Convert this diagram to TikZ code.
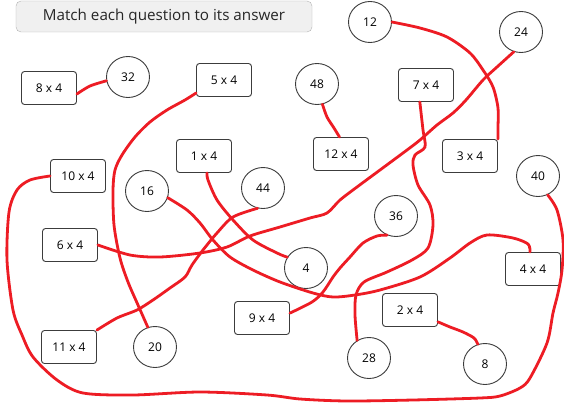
\documentclass[tikz,border=0pt]{standalone}
\usepackage{fontspec}
\setmainfont{Open Sans}
\usepackage{tikz}
\usetikzlibrary{shapes.geometric}

\definecolor{penred}{RGB}{237,28,36}
\definecolor{boxline}{RGB}{60,60,60}

\tikzset{
    qbox/.style={draw=boxline, line width=0.9pt, rounded corners=3pt, fill=white,
                 minimum width=55pt, minimum height=33pt, font=\fontsize{12}{14}\selectfont},
    ans/.style={draw=boxline, line width=0.9pt, ellipse, fill=white, inner sep=0pt,
                minimum width=43pt, minimum height=41pt, font=\fontsize{12}{14}\selectfont},
    link/.style={penred, line width=2.8pt, line cap=round, line join=round}
}

\begin{document}
\begin{tikzpicture}[x=1pt, y=-1pt]
    \useasboundingbox (0,0) rectangle (564,404);

    % Title
    \node[draw=gray!60, fill=gray!12, rounded corners=5pt, minimum width=296pt,
          minimum height=31pt, text=black!85, font=\fontsize{15.2}{17}\selectfont] (title)
          at (164,16.5) {Match each question to its answer};

    % Questions
    \foreach \n/\x/\y in {8/49/88, 5/224/80, 7/426/85, 1/204/156, 12/341/154,
                          3/470/156, 10/78/176, 6/70/245, 4/533/269, 9/262/318,
                          2/410/310, 11/69/347}
        \node[qbox] (q\n) at (\x,\y) {\n\ x 4};

    % Answers
    \foreach \n/\x/\y in {32/128/77, 12/370/22, 24/521/32, 48/317/84, 16/147/191,
                          44/263/188, 40/538/176, 36/396/216, 4/306/268,
                          20/155/347, 28/369/358, 8/485/364}
        \node[ans] (a\n) at (\x,\y) {\n};

    % Pen lines
    \draw[link] plot[smooth] coordinates {(q8.-12) (90,86) (a32.190)};
    \draw[link] plot[smooth] coordinates {(q5.205) (185,100) (167,110) (150,122)
        (135,137) (122,155) (115,170) (113,190) (114,225) (120,258) (128,282)
        (138,305) (a20.110)};
    \draw[link] plot[smooth] coordinates {(a12.east) (420,28) (447,37) (470,53)
        (483,70) (493,87) (498,108) (498,127) (q3.north east)};
    \draw[link] plot[smooth] coordinates {(a24.250) (497,67) (483,80) (466,100)
        (453,113) (437,125) (420,140) (407,150) (380,170) (357,187) (340,200)
        (327,213) (310,218) (280,227) (250,236) (227,247) (200,253) (160,257)
        (130,255) (q6.east)};
    \draw[link] plot[smooth] coordinates {(q7.250) (423,130) (425,147) (415,155)
        (413,165) (418,185) (430,205) (433,225) (428,248) (412,260) (387,272)
        (364,282) (356,295) (355,315) (a28.124)};
    \draw[link] plot[smooth] coordinates {(q1.280) (208,180) (217,200) (233,220)
        (253,240) (277,253) (a4.150)};
    \draw[link] plot[smooth] coordinates {(a16.-18) (187,210) (200,223) (213,240)
        (230,257) (253,270) (280,282) (313,293) (333,297) (355,295) (380,290)
        (420,277) (450,258) (470,243) (487,235) (513,238) (528,244) (q4.100)};
    \draw[link] plot[smooth] coordinates {(a44.255) (233,217) (217,233) (203,250)
        (192,265) (185,277) (170,288) (153,300) (137,310) (117,318) (q11.north east)};
    \draw[link] plot[smooth] coordinates {(a36.245) (377,236) (363,243) (350,257)
        (340,268) (333,277) (323,292) (312,302) (q9.10)};
    \draw[link] plot[smooth] coordinates {(q2.-23) (450,327) (463,332) (474,338)
        (a8.110)};
    \draw[link] plot[smooth] coordinates {(q10.west) (30,180) (17,190) (9,212)
        (7,260) (13,310) (22,335) (33,357) (57,380) (83,393) (133,395) (200,392)
        (267,395) (300,399) (347,401) (413,400) (480,398) (500,396) (520,388)
        (530,378) (547,343) (553,313) (558,293) (562,270) (563,240) (557,210)
        (a40.-63)};
    \draw[link] plot[smooth] coordinates {(a48.-75) (327,117) (334,128) (q12.95)};
\end{tikzpicture}
\end{document}
